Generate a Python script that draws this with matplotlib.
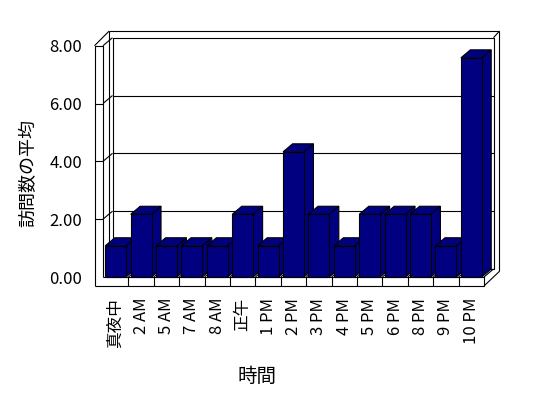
import matplotlib.pyplot as plt
from matplotlib.patches import Polygon

plt.rcParams['font.family'] = ['Noto Sans CJK JP', 'DejaVu Sans']

hours = ['真夜中', '2 AM', '5 AM', '7 AM', '8 AM', '正午', '1 PM', '2 PM',
         '3 PM', '4 PM', '5 PM', '6 PM', '8 PM', '9 PM', '10 PM']
avg_visits = [1.08, 2.17, 1.08, 1.08, 1.08, 2.17, 1.08, 4.33,
              2.17, 1.08, 2.17, 2.17, 2.17, 1.08, 7.58]
y_ticks = [0, 2, 4, 6, 8]

navy = '#000080'
lw = 0.8

fig = plt.figure(figsize=(5.48, 3.98), dpi=100)
ax = fig.add_axes([103 / 548, 1 - 277 / 398, 381 / 548, 231.3 / 398])
ax.set_xlim(-0.5, len(hours) - 0.5)
ax.set_ylim(0, 8)
for s in ax.spines.values():
    s.set_visible(False)
ax.patch.set_visible(False)

# pixel -> data units (front plane)
kx = len(hours) / ax.bbox.width
ky = 8 / ax.bbox.height

L, R = -0.5, len(hours) - 0.5
dx, dy = 9.5 * kx, 8 * ky          # depth of floor / bars
wt = 8.5 * kx                       # left wall thickness
ft = 9 * ky                         # floor thickness
left_out = L + dx - 3.3 * kx
top_out = 8 + 14.7 * ky
right_out = R + 15.5 * kx
bottom_out = -ft + 14.7 * ky


def line(xs, ys, z=1):
    ax.plot(xs, ys, color='black', lw=lw, clip_on=False, zorder=z,
            solid_capstyle='butt')


# back wall + frame
line([L + dx, R + dx, R + dx, L + dx, L + dx], [dy, dy, 8 + dy, 8 + dy, dy])
line([left_out, right_out], [top_out, top_out])
line([left_out, left_out], [top_out, dy])
line([right_out, right_out], [top_out, bottom_out])
line([R + dx, right_out], [8 + dy, top_out])
line([L - wt, left_out], [8, top_out])
line([L, L + dx], [8, 8 + dy])
line([R, R + dx], [0, dy])
line([R, right_out], [-ft, bottom_out])

# gridlines on back wall and left wall
for v in y_ticks[1:-1]:
    line([L + dx, R + dx], [v + dy, v + dy])
    line([L, L + dx], [v, v + dy])
    line([L - wt, L], [v, v], z=5)

# floor category dividers (top surface)
for i in range(len(hours) - 1):
    line([i + 0.5, i + 0.5 + dx], [0, dy], z=1.5)

# bars
bars = ax.bar(range(len(hours)), avg_visits, width=0.82, color=navy,
              edgecolor='black', linewidth=lw)
for i, b in enumerate(bars):
    x0, w, h = b.get_x(), b.get_width(), b.get_height()
    z = 3 + i * 0.01
    top = Polygon([(x0, h), (x0 + w, h), (x0 + w + dx, h + dy), (x0 + dx, h + dy)],
                  closed=True, facecolor=navy, edgecolor='black', lw=lw,
                  zorder=z, clip_on=False)
    side = Polygon([(x0 + w, 0), (x0 + w + dx, dy), (x0 + w + dx, h + dy), (x0 + w, h)],
                   closed=True, facecolor=navy, edgecolor='black', lw=lw,
                   zorder=z, clip_on=False)
    ax.add_patch(side)
    ax.add_patch(top)
    b.set_zorder(z + 0.005)
    b.set_clip_on(False)

# left wall front face and floor front face
line([L - wt, L - wt, L, L], [-ft, 8, 8, 0], z=5)
line([L - wt, R, R, L], [-ft, -ft, 0, 0], z=5)
for i in range(len(hours) - 1):
    line([i + 0.5, i + 0.5], [0, -ft], z=5)

ax.set_yticks(y_ticks)
ax.set_yticklabels([f'{v:.2f}' for v in y_ticks], fontsize=12)
ax.set_xticks(range(len(hours)))
ax.set_xticklabels(hours, rotation=90, fontsize=12)
ax.tick_params(axis='y', length=0, pad=15)
ax.tick_params(axis='x', length=0, pad=15)

fig.text(28.5 / 548, 1 - 173 / 398, '訪問数の平均', rotation=90,
         ha='center', va='center', fontsize=13)
fig.text(257 / 548, 1 - 376 / 398, '時間', ha='center', va='center',
         fontsize=14)

fig.savefig('out.png', dpi=100)
